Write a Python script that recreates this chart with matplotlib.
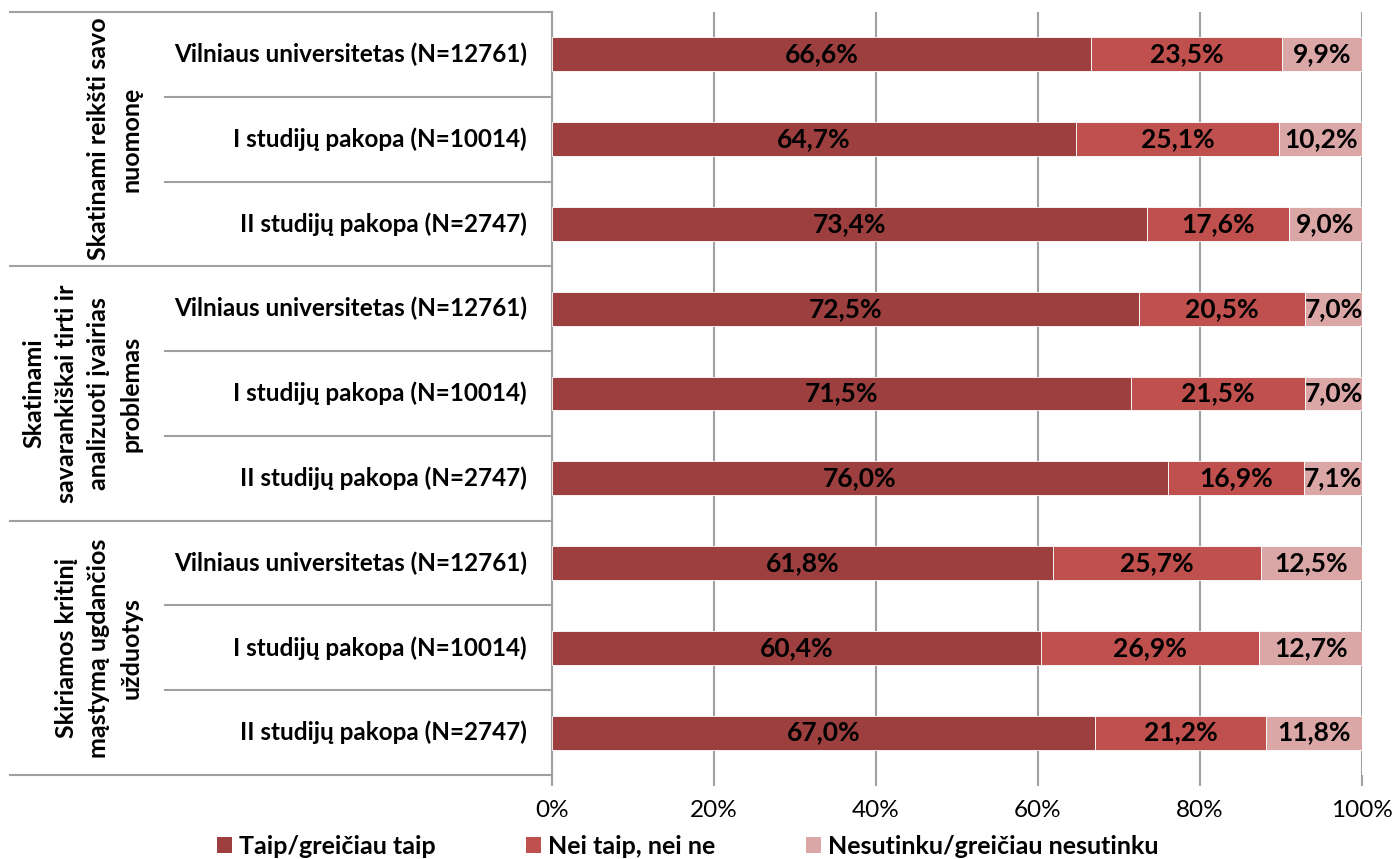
import matplotlib.pyplot as plt
from matplotlib.patches import Patch
from matplotlib.transforms import blended_transform_factory

plt.rcParams['font.family'] = ['Lato', 'DejaVu Sans']

groups = ['Skatinami reikšti savo\nnuomonę',
          'Skatinami\nsavarankiškai tirti ir\nanalizuoti įvairias\nproblemas',
          'Skiriamos kritinį\nmąstymą ugdančios\nužduotys']
rows = ['Vilniaus universitetas (N=12761)',
        'I studijų pakopa (N=10014)',
        'II studijų pakopa (N=2747)'] * 3
taip = [66.6, 64.7, 73.4, 72.5, 71.5, 76.0, 61.8, 60.4, 67.0]
nei = [23.5, 25.1, 17.6, 20.5, 21.5, 16.9, 25.7, 26.9, 21.2]
nesutinku = [9.9, 10.2, 9.0, 7.0, 7.0, 7.1, 12.5, 12.7, 11.8]
series_names = ['Taip/greičiau taip', 'Nei taip, nei ne', 'Nesutinku/greičiau nesutinku']
colors = ['#9c3f3e', '#c0504d', '#daa6a6']
xticks = [0, 20, 40, 60, 80, 100]

W, H = 1395, 859
fig = plt.figure(figsize=(W / 100, H / 100), dpi=100)
x0, x1, y0, y1 = 552, 1362, 12, 775
ax = fig.add_axes([x0 / W, 1 - y1 / H, (x1 - x0) / W, (y1 - y0) / H])

n = len(rows)
ypos = list(range(n))
left = [0] * n
for vals, c in zip([taip, nei, nesutinku], colors):
    bars = ax.barh(ypos, vals, left=left, height=0.4, color=c,
                   edgecolor='white', linewidth=0.6, zorder=3)
    for b, v in zip(bars, vals):
        ax.text(b.get_x() + b.get_width() / 2, b.get_y() + b.get_height() / 2,
                f'{v:.1f}%'.replace('.', ','), ha='center', va='center',
                fontsize=19, fontweight='bold', color='black', zorder=4)
    left = [l + v for l, v in zip(left, vals)]

ax.set_xlim(0, 100)
ax.set_ylim(n - 0.5, -0.5)
ax.set_xticks(xticks)
ax.set_xticklabels([f'{t}%' for t in xticks], fontsize=17.5)
ax.set_yticks([])
ax.grid(axis='x', color='#a0a0a0', linewidth=1.5, zorder=0)
ax.tick_params(axis='x', length=8, width=1.5, color='#a0a0a0', pad=10)
for s in ['top', 'right', 'bottom']:
    ax.spines[s].set_visible(False)
ax.spines['left'].set_color('#a0a0a0')
ax.spines['left'].set_linewidth(1.5)

# category axis with nested labels
tr = blended_transform_factory(ax.transAxes, ax.transData)
ax_px = x1 - x0
for i, r in enumerate(rows):
    ax.text((527 - x0) / ax_px, i, r, transform=tr, ha='right', va='center',
            fontsize=17.5, fontweight='bold', clip_on=False)
for k in range(n + 1):
    yb = k - 0.5
    start = 10 if k % 3 == 0 else 165
    ax.plot([(start - x0) / ax_px, 0], [yb, yb], transform=tr, color='#a0a0a0',
            linewidth=1.5, clip_on=False)
ax.plot([0, 0], [n - 0.5, n - 0.4], transform=tr, color='#a0a0a0',
        linewidth=1.5, clip_on=False)
for g, name in enumerate(groups):
    ax.text((143 - x0) / ax_px, g * 3 + 1, name, transform=tr, rotation=90,
            ha='right', va='center', multialignment='center', linespacing=1.5,
            fontsize=18, fontweight='bold', clip_on=False)

handles = [Patch(facecolor=c, edgecolor='none') for c in colors]
fig.legend(handles, series_names, loc='center', bbox_to_anchor=(0.493, 1 - 846 / H),
           ncol=3, frameon=False, prop={'size': 18, 'weight': 'bold'},
           handlelength=0.6, handleheight=0.6, handletextpad=0.3, columnspacing=3.6)

fig.savefig('out.png', dpi=100)
